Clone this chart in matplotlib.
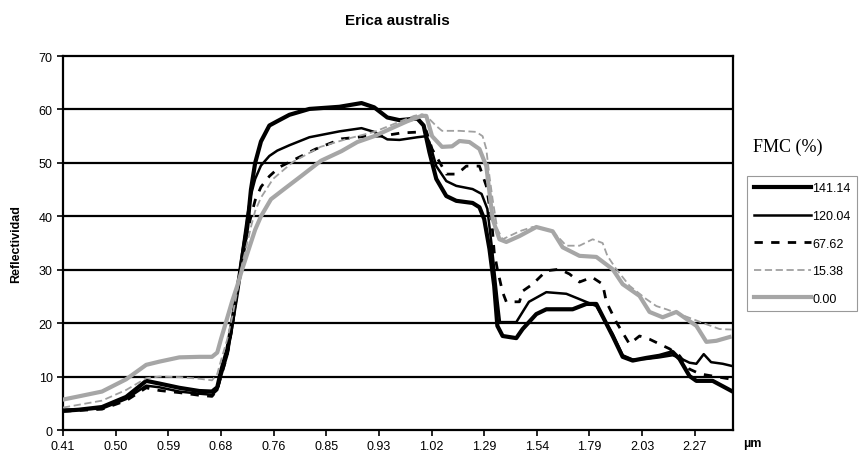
import matplotlib
matplotlib.use("Agg")
import matplotlib.pyplot as plt

# Category axis labels (wavelength, µm) at tick positions 0..12
tick_labels = ["0.41", "0.50", "0.59", "0.68", "0.76", "0.85", "0.93",
               "1.02", "1.29", "1.54", "1.79", "2.03", "2.27"]

# FMC 141.14 %
x_141 = [0, 0.30, 0.74, 1.20, 1.58, 1.83, 2.21, 2.59, 2.83, 2.93, 3.00, 3.12,
         3.21, 3.31, 3.40, 3.50, 3.57, 3.65, 3.76, 3.92, 4.07, 4.30, 4.68, 5.25,
         5.67, 5.91, 6.16, 6.39, 6.73, 6.85, 6.96, 7.09, 7.28, 7.47, 7.78, 7.91,
         8.00, 8.10, 8.19, 8.25, 8.35, 8.61, 8.73, 8.99, 9.18, 9.68, 9.94, 10.13,
         10.44, 10.63, 10.82, 11.08, 11.33, 11.58, 11.71, 11.90, 12.03, 12.34,
         12.53, 12.70]
y_141 = [3.6, 3.8, 4.3, 6.2, 9.2, 8.7, 7.9, 7.3, 7.2, 8.0, 11, 15,
         20, 26, 32, 38, 45, 50, 54, 57, 57.8, 59, 60.1, 60.5,
         61.2, 60.4, 58.5, 58.0, 58.3, 57.0, 52.0, 47, 43.8, 42.9, 42.5, 41.7,
         39.5, 33.9, 27, 19.5, 17.6, 17.2, 18.9, 21.7, 22.6, 22.6, 23.6, 23.6,
         17.6, 13.7, 13.0, 13.5, 13.9, 14.6, 13.3, 10.1, 9.2, 9.2,
         8.2, 7.3]

# FMC 120.04 %
x_120 = [0, 0.74, 1.20, 1.58, 1.83, 2.21, 2.59, 2.83, 2.93, 3.00, 3.12, 3.21,
         3.31, 3.40, 3.50, 3.57, 3.65, 3.76, 3.92, 4.07, 4.30, 4.68, 5.25, 5.67,
         5.91, 6.16, 6.39, 6.73, 6.90, 6.96, 7.09, 7.28, 7.47, 7.78, 7.95, 8.06,
         8.15, 8.25, 8.30, 8.61, 8.85, 9.18, 9.56, 9.81, 10.13, 10.44, 10.63,
         10.82, 11.08, 11.33, 11.58, 11.71, 11.90, 12.03, 12.17, 12.31, 12.53,
         12.70]
y_120 = [3.8, 4.0, 5.8, 8.3, 8.0, 7.2, 6.8, 6.6, 7.5, 10, 14, 19,
         26, 33, 40, 44, 47, 49.5, 51.3, 52.3, 53.3, 54.8, 55.9, 56.5,
         55.8, 54.4, 54.3, 54.8, 55.0, 53.9, 49.4, 46.6, 45.7, 45.1, 44.2, 41.4,
         33.9, 24.5, 20.2, 20.2, 24.0, 25.8, 25.5, 24.5, 23.2, 18.0, 14.0,
         13.2, 13.3, 13.6, 14.0, 13.5, 12.6, 12.4, 14.2, 12.7, 12.4,
         12.0]

# FMC 67.62 %
x_67 = [0, 0.74, 1.20, 1.58, 1.83, 2.21, 2.59, 2.83, 2.93, 3.00, 3.12, 3.21,
        3.31, 3.40, 3.50, 3.57, 3.65, 3.76, 3.92, 4.11, 4.35, 4.80, 5.29, 5.78,
        6.05, 6.42, 6.81, 6.90, 7.01, 7.15, 7.28, 7.47, 7.59, 7.66, 7.91, 8.04,
        8.14, 8.19, 8.25, 8.35, 8.42, 8.67, 8.73, 8.92, 9.18, 9.43, 9.62, 9.81,
        10.05, 10.25, 10.32, 10.51, 10.76, 10.95, 11.14, 11.33, 11.52, 11.71,
        11.90, 12.10, 12.40, 12.70]
y_67 = [3.5, 3.9, 5.5, 7.9, 7.4, 7.0, 6.5, 6.3, 7.5, 10, 14, 19,
        26, 32, 37, 40, 43, 45.5, 47.5, 49.2, 50.4, 52.6, 54.5, 55.0,
        55.0, 55.6, 55.8, 56.0, 52.6, 50.2, 47.9, 47.9, 48.8, 49.4, 49.4, 45.7,
        39.5, 33.3, 30.1, 25.8, 24.0, 24.0, 26.0, 27.3, 29.8, 30.1, 29.2, 27.7,
        28.6, 27.3, 24.0, 20.2, 16.1, 17.6, 17.0, 16.1, 15.2, 13.9,
        11.4, 10.5, 10.0, 9.5]

# FMC 15.38 %
x_15 = [0, 0.74, 1.20, 1.58, 1.83, 2.21, 2.59, 2.83, 2.93, 3.00, 3.12, 3.21,
        3.31, 3.40, 3.50, 3.57, 3.65, 3.76, 3.99, 4.37, 4.89, 5.40, 5.91, 6.29,
        6.67, 6.82, 6.90, 7.09, 7.20, 7.53, 7.85, 7.97, 8.04, 8.10, 8.16, 8.25,
        8.35, 8.67, 8.92, 9.30, 9.56, 9.81, 10.06, 10.25, 10.34, 10.51, 10.76,
        11.08, 11.27, 11.46, 11.71, 12.22, 12.47, 12.70]
y_15 = [4.2, 5.5, 7.5, 9.7, 10.0, 9.9, 9.6, 9.3, 10.5, 13, 17, 21,
        26, 31, 35, 38, 41, 43.5, 47, 50.2, 53, 54.5, 55.8, 57.3,
        58.8, 59.1, 58.8, 56.9, 56.0, 56.0, 55.8, 55.0, 52.6, 47.5, 43.2, 37.6,
        35.7, 37.2, 38.0, 37.2, 34.5, 34.5, 35.7, 35.0, 32.6, 30.1, 27.0,
        24.5, 23.2, 22.6, 21.7, 19.8, 18.9, 18.8]

# FMC 0.00 %
x_00 = [0, 0.30, 0.74, 1.20, 1.58, 1.83, 2.21, 2.59, 2.83, 2.93, 3.00, 3.12,
        3.21, 3.31, 3.40, 3.50, 3.65, 3.76, 3.95, 4.20, 4.52, 4.90, 5.29, 5.59,
        5.91, 6.29, 6.54, 6.81, 6.90, 7.01, 7.20, 7.39, 7.53, 7.72, 7.91, 8.04,
        8.10, 8.16, 8.29, 8.42, 8.67, 8.99, 9.30, 9.49, 9.81, 10.13, 10.44,
        10.63, 10.95, 11.14, 11.39, 11.65, 11.84, 12.03, 12.22, 12.41, 12.66]
y_00 = [5.7, 6.3, 7.2, 9.5, 12.2, 12.8, 13.6, 13.7, 13.7, 14.5, 17, 21,
        24, 27, 30, 33, 37.5, 40, 43.2, 45.1, 47.5, 50.4, 52.2, 53.9,
        55.0, 56.7, 57.8, 58.8, 58.8, 55.0, 53.0, 53.1, 54.1, 53.9, 52.6, 49.4,
        44.5, 39.5, 35.7, 35.2, 36.3, 38.0, 37.2, 34.2, 32.6, 32.4, 30.1,
        27.3, 25.1, 22.1, 21.1, 22.1, 20.8, 19.5, 16.5, 16.7, 17.4]

plt.rcParams['font.family'] = ['Liberation Sans', 'DejaVu Sans']

fig = plt.figure(figsize=(8.63, 4.60), dpi=100)
ax = fig.add_axes([0.073, 0.063, 0.776, 0.813])

# horizontal gridlines
for g in range(10, 70, 10):
    ax.axhline(g, color='black', linewidth=1.6, zorder=1)

ax.plot(x_141, y_141, color='black', linewidth=3.0, label='141.14', zorder=3)
ax.plot(x_120, y_120, color='black', linewidth=1.8, label='120.04', zorder=3)
ax.plot(x_67, y_67, color='black', linewidth=2.0, linestyle=(0, (3, 3)),
        label='67.62', zorder=3)
ax.plot(x_15, y_15, color='#a0a0a0', linewidth=1.3, linestyle=(0, (4, 2)),
        label='15.38', zorder=3)
ax.plot(x_00, y_00, color='#a6a6a6', linewidth=3.0, label='0.00', zorder=4)

ax.set_xlim(0, 12.72)
ax.set_ylim(0, 70)
ax.set_yticks(range(0, 80, 10))
ax.set_xticks(range(len(tick_labels)))
ax.set_xticklabels(tick_labels)
ax.tick_params(axis='both', direction='out', length=4, width=1.2,
               labelsize=9, colors='black')
for s in ax.spines.values():
    s.set_linewidth(1.6)
    s.set_color('black')

ax.text(12.92, -1.4, 'µm', fontsize=9, fontweight='bold', va='top',
        ha='left', clip_on=False)
ax.set_ylabel('Reflectividad', fontsize=9, fontweight='bold', labelpad=12)
fig.text(0.461, 0.955, 'Erica australis', fontsize=11, fontweight='bold',
         ha='center', va='center')

fig.text(0.873, 0.68, 'FMC (%)', fontsize=13, family='Liberation Serif',
         ha='left', va='center')
leg = ax.legend(loc='upper left', bbox_to_anchor=(0.866, 0.615),
                bbox_transform=fig.transFigure, fontsize=9, frameon=True,
                fancybox=False, handlelength=4.6, handletextpad=0.1,
                labelspacing=1.25, borderpad=0.5, borderaxespad=0)
leg.get_frame().set_edgecolor('#808080')
leg.get_frame().set_linewidth(0.8)

fig.savefig('out.png', dpi=100)
